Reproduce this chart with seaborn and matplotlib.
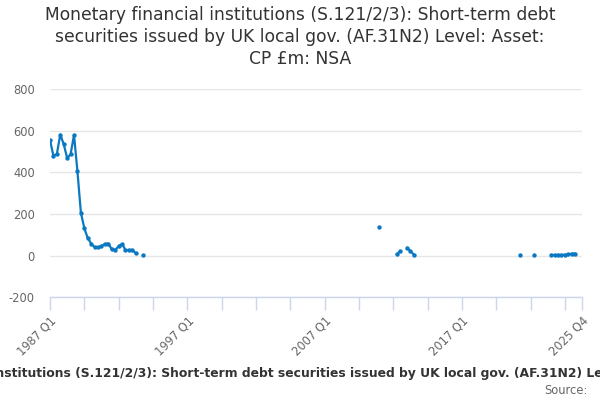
import pandas as pd
import matplotlib
matplotlib.use("Agg")
import matplotlib.pyplot as plt
import seaborn as sns

# quarterly axis 1987 Q1 .. 2025 Q4
years = list(range(1987, 2026))
quarters = [f"{y} Q{q}" for y in years for q in range(1, 5)]

# observed values (CP £m), other quarters are missing
obs_quarter = [
    "1987 Q1", "1987 Q2", "1987 Q3", "1987 Q4", "1988 Q1", "1988 Q2", "1988 Q3", "1988 Q4",
    "1989 Q1", "1989 Q2", "1989 Q3", "1989 Q4", "1990 Q1", "1990 Q2", "1990 Q3", "1990 Q4",
    "1991 Q1", "1991 Q2", "1991 Q3", "1991 Q4", "1992 Q1", "1992 Q2", "1992 Q3", "1992 Q4",
    "1993 Q1", "1993 Q2", "1993 Q4",
    "2011 Q1",
    "2012 Q2", "2012 Q3", "2013 Q1", "2013 Q2", "2013 Q3",
    "2021 Q2", "2022 Q2",
    "2023 Q3", "2023 Q4", "2024 Q1", "2024 Q2", "2024 Q3", "2024 Q4", "2025 Q1", "2025 Q2",
]
obs_value = [
    556, 480, 488, 582, 536, 469, 487, 580,
    405, 207, 132, 84, 58, 40, 40, 45,
    56, 58, 30, 27, 45, 56, 27, 27,
    27, 11, 4,
    137,
    6, 20, 38, 22, 5,
    4, 3,
    3, 3, 3, 3, 4, 6, 9, 10,
]

tick_every = 10
label_quarters = ["1987 Q1", "1997 Q1", "2007 Q1", "2017 Q1", "2025 Q4"]

title = ("Monetary financial institutions (S.121/2/3): Short-term debt\n"
         "securities issued by UK local gov. (AF.31N2) Level: Asset:\n"
         "CP £m: NSA")
full_title = title.replace("\n", " ")

df = pd.DataFrame({"quarter": obs_quarter, "value": obs_value})
df["pos"] = df["quarter"].map(quarters.index)
# break the line where quarters are missing
df["segment"] = (df["pos"].diff() != 1).cumsum()

sns.set_theme(style="white")
plt.rcParams["font.family"] = ["DejaVu Sans"]
plt.rcParams["axes.unicode_minus"] = False

fig = plt.figure(figsize=(6, 4), dpi=100)
ax = fig.add_axes([0.0833, 0.257, 0.97 - 0.0833, 0.777 - 0.257])

blue = "#0a78c2"
sns.lineplot(data=df, x="pos", y="value", units="segment", estimator=None,
             color=blue, lw=1.6, ax=ax, legend=False)
sns.scatterplot(data=df, x="pos", y="value", color=blue, s=10,
                linewidth=0, ax=ax, legend=False, zorder=3)

ax.set_xlim(0, len(quarters) - 1)
ax.set_ylim(-200, 800)
ax.set_yticks([-200, 0, 200, 400, 600, 800])
ax.yaxis.grid(True, color="#e6e6e6", lw=1)
ax.set_axisbelow(True)

tick_pos = list(range(0, len(quarters), tick_every)) + [len(quarters) - 1]
ax.set_xticks(tick_pos)
ax.set_xticklabels([quarters[p] if quarters[p] in label_quarters else "" for p in tick_pos],
                   rotation=45, ha="right", rotation_mode="anchor")
ax.tick_params(axis="x", bottom=True, colors="#ccd6eb", length=9, width=1, direction="out",
               labelcolor="#666666", labelsize=8.3, pad=3)
ax.tick_params(axis="y", left=False, length=0, labelcolor="#666666", labelsize=8.3, pad=11)

for s in ["top", "right", "left"]:
    ax.spines[s].set_visible(False)
ax.spines["bottom"].set_color("#ccd6eb")
ax.spines["bottom"].set_linewidth(1)

ax.set_xlabel("")
ax.set_ylabel("")

fig.suptitle(title, y=0.985, fontsize=12.3, color="#333333", linespacing=1.3)
fig.text(310 / 600, 1 - 373 / 400, full_title, ha="center", va="center",
         fontsize=8.9, fontweight="bold", color="#333333")
fig.text(588 / 600, 1 - 390 / 400, "Source:", ha="right", va="center",
         fontsize=8.3, color="#666666")

plt.savefig("out.png", dpi=100)
